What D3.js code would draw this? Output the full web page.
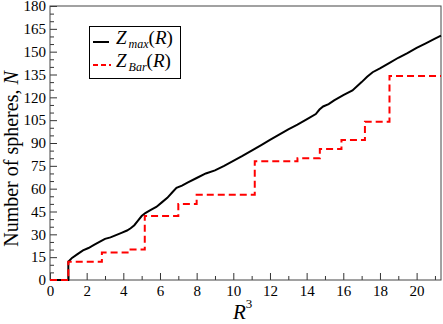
<!DOCTYPE html>
<html><head><meta charset="utf-8">
<script src="https://cdn.jsdelivr.net/npm/d3@7/dist/d3.min.js"></script>
<style>
body{margin:0;background:#fff;}
svg, svg text{font-family:"Liberation Serif","Times New Roman",serif !important;}
</style></head>
<body>
<script>
// Z_max(R) series
const maxX = [0,1,1,1.2,1.5,1.8,2.1,2.4,2.7,3.0,3.3,3.6,3.9,4.2,4.4,4.6,4.8,5.0,5.2,5.5,5.8,6.1,6.4,6.7,6.9,7.2,7.5,8.0,8.5,9.0,9.5,10.0,10.5,11.0,11.5,12.0,12.5,13.0,13.5,14.0,14.5,14.7,14.9,15.2,15.5,16.0,16.5,17.0,17.3,17.6,18.0,18.5,19.0,19.5,20.0,20.5,21.0,21.33];
const maxY = [0,0,12,14.5,17,19.5,21,23,25,27,28,29.5,31,32.5,34,36,39,42,44,46,48,51,54,58,60.5,62,64,67,70,72,75,78.2,81.5,85,88.5,92,95.5,99,102,105.5,109,112,114,115.5,118,121.5,124.5,130,133.5,136.5,139,142.5,146,149,152.5,155.5,158.5,160.5];
// Z_Bar(R) step series
const barX = [0,1,2.83,4.33,5.17,7.0,8.0,11.17,13.5,14.72,15.9,17.18,18.52,21.33];
const barY = [0,12,18,20,42,50,56,78,80,86,92,104,134,134];
// ticks
const xMajor = [0,2,4,6,8,10,12,14,16,18,20];
const xMinor = [1,3,5,7,9,11,13,15,17,19,21];
const yMajor = [0,15,30,45,60,75,90,105,120,135,150,165,180];
const yMinor = [5,10,20,25,35,40,50,55,65,70,80,85,95,100,110,115,125,130,140,145,155,160,170,175];

const W=443,H=324;
const L=50,R=441,T=6,B=280;
const FONT='"Liberation Serif","Times New Roman",serif';
const svg=d3.select("body").append("svg").attr("width",W).attr("height",H);
const x=d3.scaleLinear().domain([0,21.33]).range([L,R]);
const y=d3.scaleLinear().domain([0,180]).range([B,T]);

function styleAxis(g){
  g.attr("font-family",FONT).style("font-family",FONT);
  g.select(".domain").remove();
  g.selectAll("line").attr("stroke","#333");
  g.selectAll("text").style("font-family",FONT).attr("font-size",15).attr("fill","#000");
}
svg.append("g").attr("transform",`translate(0,${B})`)
  .call(d3.axisBottom(x).tickValues(xMinor).tickSize(-4).tickFormat(""))
  .call(styleAxis);
svg.append("g").attr("transform",`translate(0,${B})`)
  .call(d3.axisBottom(x).tickValues(xMajor).tickSize(-7).tickPadding(5).tickFormat(d3.format("d")))
  .call(styleAxis);
svg.append("g").attr("transform",`translate(${L},0)`)
  .call(d3.axisLeft(y).tickValues(yMinor).tickSize(-4).tickFormat(""))
  .call(styleAxis);
svg.append("g").attr("transform",`translate(${L},0)`)
  .call(d3.axisLeft(y).tickValues(yMajor).tickSize(-7).tickPadding(4).tickFormat(d3.format("d")))
  .call(styleAxis);

svg.append("rect").attr("x",L).attr("y",T).attr("width",R-L).attr("height",B-T)
  .attr("fill","none").attr("stroke","#444").attr("stroke-width",1);

const maxData=maxX.map((v,i)=>[v,maxY[i]]);
const barData=barX.map((v,i)=>[v,barY[i]]);
svg.append("path").datum(maxData)
  .attr("d",d3.line().x(d=>x(d[0])).y(d=>y(d[1])))
  .attr("fill","none").attr("stroke","#000").attr("stroke-width",2);
svg.append("path").datum(barData)
  .attr("d",d3.line().curve(d3.curveStepAfter).x(d=>x(d[0])).y(d=>y(d[1])))
  .attr("fill","none").attr("stroke","#ff0000").attr("stroke-width",2).attr("stroke-dasharray","7,4");

// axis titles
const yl=svg.append("text").attr("transform","translate(18,159) rotate(-90)")
  .attr("text-anchor","middle").attr("font-size",20).attr("fill","#000");
yl.append("tspan").text("Number of spheres, ");
yl.append("tspan").attr("font-style","italic").text("N");

const xl=svg.append("text").attr("x",233).attr("y",319).attr("font-size",21).attr("fill","#000");
xl.append("tspan").attr("font-style","italic").text("R");
xl.append("tspan").attr("font-size",13).attr("dy",-11).text("3");

// legend
const lg=svg.append("g");
lg.append("rect").attr("x",89.5).attr("y",26.5).attr("width",91).attr("height",52)
  .attr("fill","#fff").attr("stroke","#000").attr("stroke-width",1);
lg.append("line").attr("x1",93).attr("x2",109).attr("y1",42).attr("y2",42).attr("stroke","#000").attr("stroke-width",2);
lg.append("line").attr("x1",93).attr("x2",111).attr("y1",65).attr("y2",65).attr("stroke","#ff0000").attr("stroke-width",2).attr("stroke-dasharray","5,3");
function legText(yb,sub){
  const t=lg.append("text").attr("x",116).attr("y",yb).attr("font-size",19).attr("fill","#000");
  t.append("tspan").attr("font-style","italic").text("Z");
  t.append("tspan").attr("font-style","italic").attr("font-size",12).attr("dx",2).attr("dy",4).text(sub);
  t.append("tspan").attr("dy",-4).text("(");
  t.append("tspan").attr("font-style","italic").text("R");
  t.append("tspan").text(")");
}
legText(44,"max");
legText(67,"Bar");
</script>
</body></html>
